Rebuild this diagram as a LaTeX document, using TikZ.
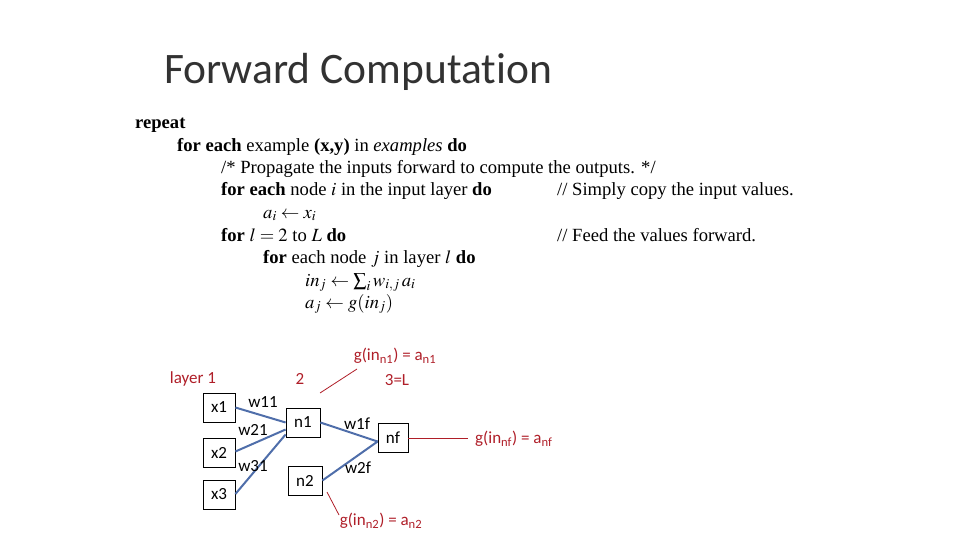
\documentclass[tikz,border=0pt]{standalone}
\usepackage{mathptmx}
\usepackage[no-math]{fontspec}
\setmainfont{Liberation Serif}
\newfontfamily\calfont[Ligatures=NoCommon]{Carlito}
\definecolor{netblue}{RGB}{79,110,170}
\definecolor{annred}{RGB}{175,30,40}
\definecolor{titlegray}{RGB}{50,50,50}
\begin{document}
\begin{tikzpicture}[x=1pt,y=-1pt,
  algo/.style={anchor=base west,inner sep=0pt,font=\fontsize{18.6}{22}\selectfont},
  box/.style={draw=black,line width=0.8pt,fill=white,inner sep=0pt,font=\calfont\fontsize{17}{20}\selectfont},
  lbl/.style={inner sep=0pt,font=\calfont\fontsize{17}{20}\selectfont},
  ann/.style={inner sep=0pt,text=annred,font=\calfont\fontsize{17}{20}\selectfont},
  wire/.style={draw=netblue,line width=2pt},
  redline/.style={draw=annred,line width=0.8pt}]
\useasboundingbox (0,0) rectangle (960,540);
\node[anchor=base west,inner sep=0pt,text=titlegray,font=\calfont\fontsize{43.5}{50}\selectfont] (title) at (164,84) {Forward Computation};
% algorithm
\node[algo] (l1) at (135,129) {\textbf{repeat}};
\node[algo] (l2) at (177,152) {\textbf{for each} example \textbf{(x,y)} in \textit{examples} \textbf{do}};
\node[algo] (l3) at (221,174) {/* Propagate the inputs forward to compute the outputs. */};
\node[algo] (l4) at (221,196) {\textbf{for each} node $i$ in the input layer \textbf{do}};
\node[algo] (c1) at (557,196) {// Simply copy the input values.};
\node[algo] (l5) at (263,218) {$a_i \leftarrow x_i$};
\node[algo] (l6) at (221,241) {\textbf{for} $l=2$ to $L$ \textbf{do}};
\node[algo] (c2) at (557,241) {// Feed the values forward.};
\node[algo] (l7) at (263,263) {\textbf{for} each node $j$ in layer $l$ \textbf{do}};
\node[algo] (l8) at (305,286) {$\mathit{in}_j \leftarrow \sum_i w_{i,j}\, a_i$};
\node[algo] (l9) at (305,308) {$a_j \leftarrow g(\mathit{in}_j)$};
% network
\node[box,minimum width=32,minimum height=29] (x1) at (219,407.5) {x1};
\node[box,minimum width=32,minimum height=29] (x2) at (219,452.5) {x2};
\node[box,minimum width=32,minimum height=29] (x3) at (219,494.5) {x3};
\node[box,minimum width=34,minimum height=29] (n1) at (303,422.5) {n1};
\node[box,minimum width=34,minimum height=29] (n2) at (305,480.5) {n2};
\node[box,minimum width=30,minimum height=29] (nf) at (393,437.5) {nf};
\draw[wire] (x1.east) -- ([yshift=0pt]n1.west);
\draw[wire] ([yshift=1pt]x2.east) -- ([yshift=-7pt]n1.west);
\draw[wire] ([yshift=0.5pt]x3.east) -- ([yshift=-12pt]n1.west);
\draw[wire] (n1.east) -- ([yshift=-4pt]nf.west);
\draw[wire] (n2.east) -- ([yshift=-4pt]nf.west);
\node[lbl] (w11) at (263,402) {w11};
\node[lbl] (w21) at (253,430) {w21};
\node[lbl] (w31) at (253,466) {w31};
\node[lbl] (w1f) at (357,424) {w1f};
\node[lbl] (w2f) at (358,468) {w2f};
% annotations
\node[ann] (layer1) at (193,379) {layer 1};
\node[ann] (lay2) at (300,379) {2};
\node[ann] (gn1) at (395,356) {g(in\textsubscript{n1}) = a\textsubscript{n1}};
\node[ann] (lay3) at (397,380) {3=L};
\node[ann] (gn2) at (381,521) {g(in\textsubscript{n2}) = a\textsubscript{n2}};
\node[ann,anchor=west] (gnf) at (475,439) {g(in\textsubscript{nf}) = a\textsubscript{nf}};
\coordinate (r1a) at (320,393);
\coordinate (r1b) at (357,369);
\coordinate (r2a) at (327,492);
\coordinate (r2b) at (339,515);
\coordinate (r3b) at (468,438);
\draw[redline] (r1a) -- (r1b);
\draw[redline] (r2a) -- (r2b);
\draw[redline] (nf.east |- r3b) -- (r3b);
\end{tikzpicture}
\end{document}
